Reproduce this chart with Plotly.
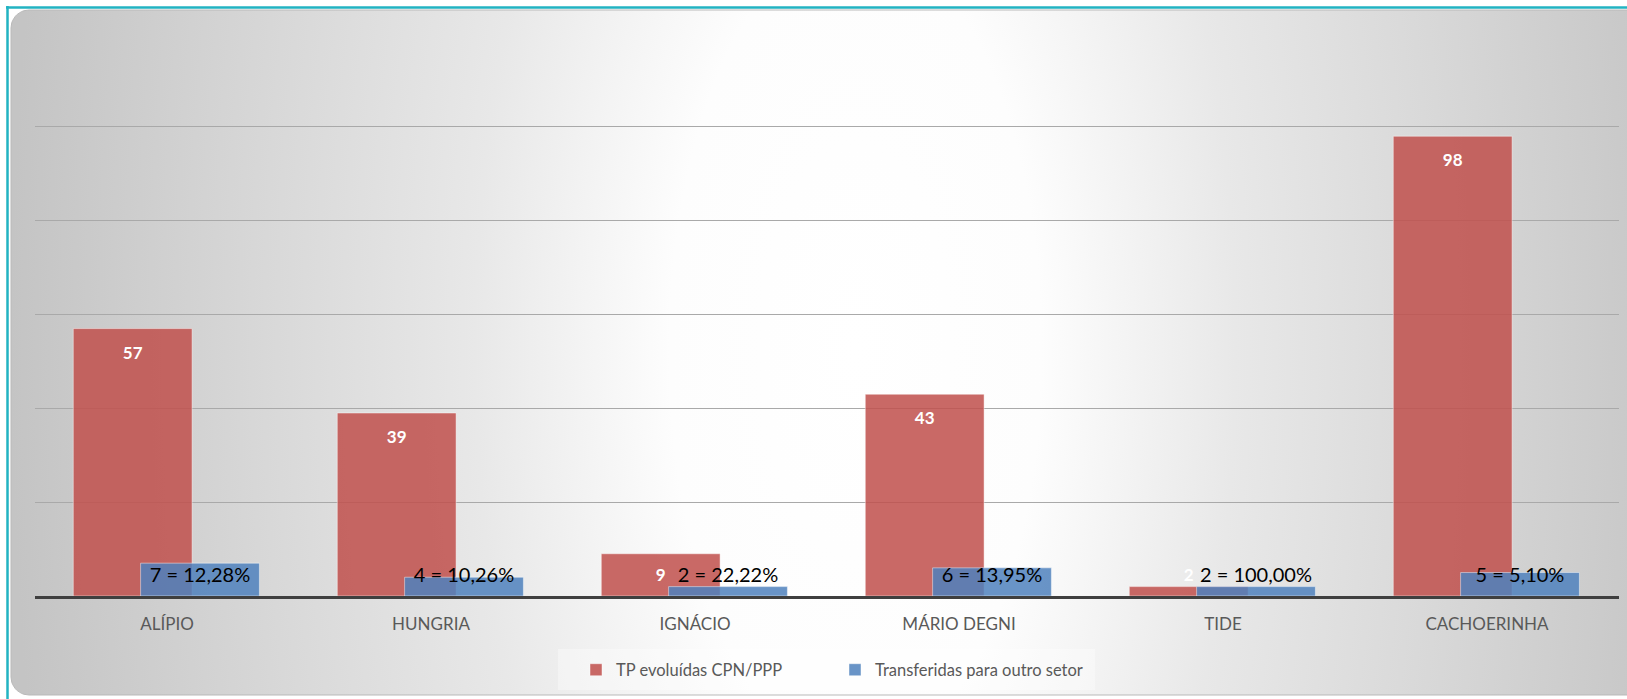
import numpy as np
import plotly.graph_objects as go

# ---------------- data ----------------
categories = ["ALÍPIO", "HUNGRIA", "IGNÁCIO", "MÁRIO DEGNI", "TIDE", "CACHOERINHA"]
tp_evoluidas = [57, 39, 9, 43, 2, 98]
transferidas = [7, 4, 2, 6, 2, 5]
transferidas_labels = ["7 = 12,28%", "4 = 10,26%", "2 = 22,22%",
                       "6 = 13,95%", "2 = 100,00%", "5 = 5,10%"]
series_names = ["TP evoluídas CPN/PPP", "Transferidas para outro setor"]
y_gridvals = [0, 20, 40, 60, 80, 100, 120]

# ---------------- layout constants ----------------
W, H = 1627, 699
PLOT_L, PLOT_R = 35, 1619
PLOT_B, PLOT_T = 596, 33
BAR_W = 0.45
RED_OFF = -0.355
BLUE_OFF = -0.10
RED_LABEL_DROP = 5.5
BLUE_LABEL_Y = 4.0
FONT = "Lato"
RED = "rgba(192,80,77,0.86)"
BLUE = "rgba(79,129,189,0.85)"

xpos = list(range(len(categories)))

fig = go.Figure()

# ---------------- background (pixel-space axes x / y) ----------------
def rounded_panel(x0, y0, x1, y1, r, spike_x, spike_top, spike_bot):
    xs, ys = [], []
    for a in np.linspace(np.pi, 1.5 * np.pi, 12):
        xs.append(x0 + r + r * np.cos(a)); ys.append(y0 + r + r * np.sin(a))
    # zero-area spikes (off-screen) enlarge the gradient box vertically
    xs += [spike_x, spike_x, spike_x, x1, x1, spike_x, spike_x, spike_x]
    ys += [y0, spike_top, y0, y0, y1, y1, spike_bot, y1]
    for a in np.linspace(0.5 * np.pi, np.pi, 12):
        xs.append(x0 + r + r * np.cos(a)); ys.append(y1 - r + r * np.sin(a))
    xs.append(xs[0]); ys.append(ys[0])
    return xs, ys

bx, by = rounded_panel(11, 10, 1700, 695, 18, 1690, -1500, 2200)
fig.add_trace(go.Scatter(
    x=bx, y=by, mode="lines", fill="toself",
    fillgradient=dict(type="radial", colorscale=[
        [0.0, "#ffffff"], [0.22, "#fdfdfd"], [0.45, "#e8e8e8"],
        [0.7, "#d8d8d8"], [1.0, "#c4c4c4"]]),
    line=dict(color="#b9b9b9", width=1),
    xaxis="x", yaxis="y", showlegend=False, hoverinfo="skip"))

# ---------------- bars (axes x2 / y2) ----------------
fig.add_trace(go.Bar(
    x=xpos, y=tp_evoluidas, name=series_names[0],
    width=BAR_W, offset=RED_OFF,
    marker=dict(color=RED, line=dict(color="rgba(255,255,255,0.45)", width=1)),
    xaxis="x2", yaxis="y2", hoverinfo="skip"))
fig.add_trace(go.Bar(
    x=xpos, y=transferidas, name=series_names[1],
    width=BAR_W, offset=BLUE_OFF,
    marker=dict(color=BLUE, line=dict(color="rgba(255,255,255,0.45)", width=1)),
    xaxis="x2", yaxis="y2", hoverinfo="skip"))

# data labels
red_cx = [i + RED_OFF + BAR_W / 2 for i in xpos]
blue_cx = [i + BLUE_OFF + BAR_W / 2 for i in xpos]
red_ly = [max(v - RED_LABEL_DROP, BLUE_LABEL_Y) for v in tp_evoluidas]
fig.add_trace(go.Scatter(
    x=red_cx, y=red_ly, mode="text", text=[str(v) for v in tp_evoluidas],
    textfont=dict(family=FONT, size=17, color="white", weight="bold"),
    xaxis="x2", yaxis="y2", showlegend=False, hoverinfo="skip", cliponaxis=False))
fig.add_trace(go.Scatter(
    x=blue_cx, y=[BLUE_LABEL_Y] * len(transferidas), mode="text", text=transferidas_labels,
    textfont=dict(family=FONT, size=20, color="black"),
    xaxis="x2", yaxis="y2", showlegend=False, hoverinfo="skip", cliponaxis=False))

# ---------------- layout ----------------
fig.update_layout(
    width=W, height=H, autosize=False,
    margin=dict(l=0, r=0, t=0, b=0),
    paper_bgcolor="white", plot_bgcolor="rgba(0,0,0,0)",
    barmode="overlay",
    font=dict(family=FONT, color="#595959"),
    xaxis=dict(domain=[0, 1], range=[0, W], visible=False, fixedrange=True),
    yaxis=dict(domain=[0, 1], range=[H, 0], visible=False, fixedrange=True),
    xaxis2=dict(domain=[PLOT_L / W, PLOT_R / W], anchor="y2",
                range=[-0.5, len(categories) - 0.5],
                tickmode="array", tickvals=xpos, ticktext=categories,
                showgrid=False, zeroline=False, ticks="",
                showline=True, linecolor="#3f3f3f", linewidth=3,
                tickfont=dict(family=FONT, size=17, color="#595959"),
                ticklabelstandoff=11),
    yaxis2=dict(domain=[(H - PLOT_B) / H, (H - PLOT_T) / H], anchor="x2",
                range=[0, 120], tickmode="array", tickvals=y_gridvals,
                showgrid=True, gridcolor="#a9a9a9", gridwidth=1,
                zeroline=False, showticklabels=False, ticks=""),
    legend=dict(orientation="h", x=576 / W, xanchor="left", y=(H - 670) / H,
                yanchor="middle", bgcolor="rgba(0,0,0,0)",
                font=dict(family=FONT, size=16.5, color="#595959"),
                entrywidth=214, entrywidthmode="pixels",
                itemwidth=30, traceorder="normal"),
    shapes=[
        dict(type="rect", xref="x", yref="y", x0=558, x1=1095, y0=649, y1=690,
             fillcolor="rgba(255,255,255,0.35)", line=dict(width=0), layer="above"),
        dict(type="line", xref="x", yref="y", x0=6, x1=W, y0=7.5, y1=7.5,
             line=dict(color="#22b3c2", width=2.5), layer="above"),
        dict(type="line", xref="x", yref="y", x0=7.5, x1=7.5, y0=6, y1=H,
             line=dict(color="#22b3c2", width=2.5), layer="above"),
    ],
)

fig.write_html("out.html", config={"displayModeBar": False},
               post_script="document.body.style.margin='0';document.body.style.padding='0';")
